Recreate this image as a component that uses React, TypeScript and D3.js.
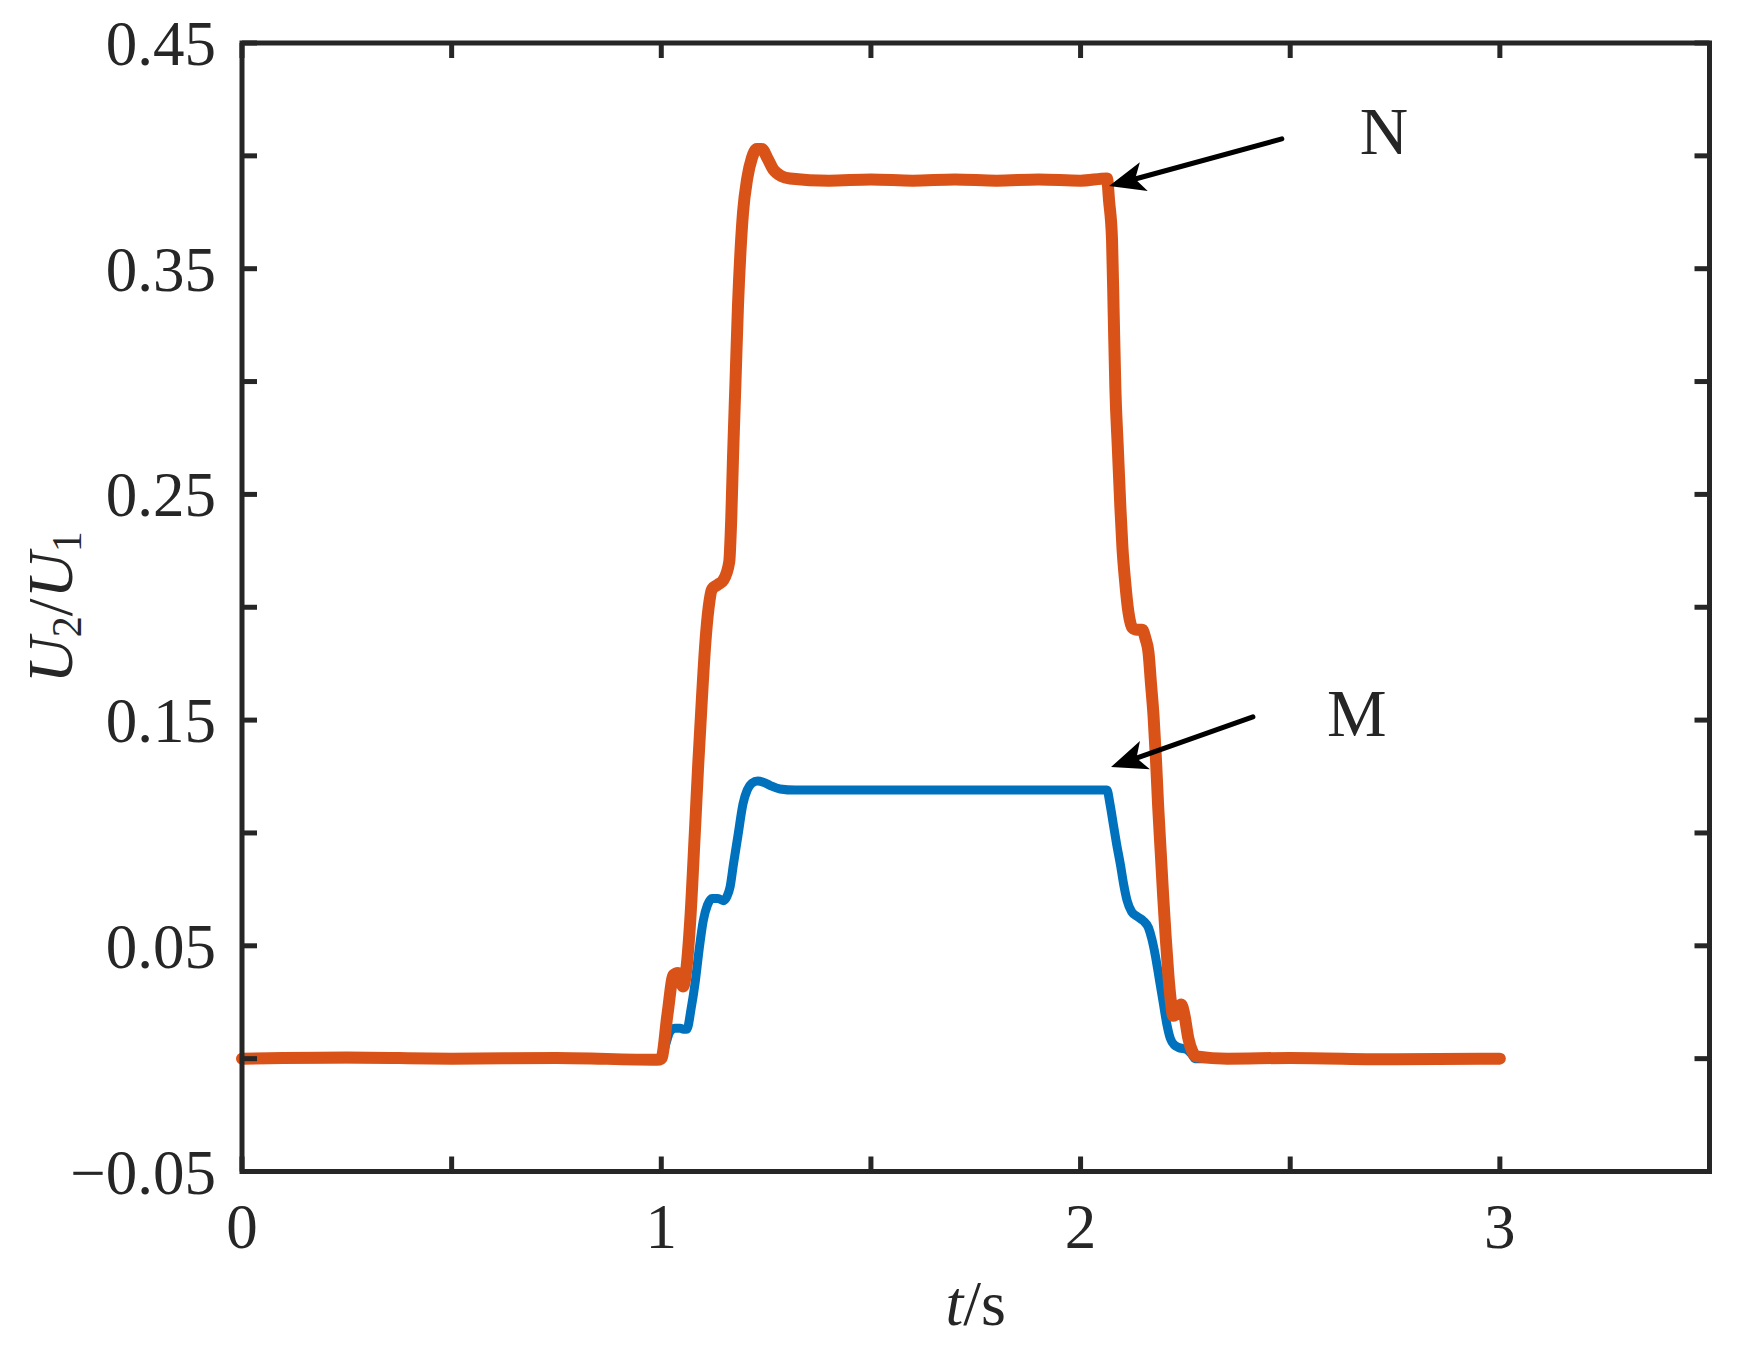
import React from "react";
import * as d3 from "d3";

// ---- data ----
const tN = [0, 0.25, 0.5, 0.75, 0.99, 1.0, 1.015, 1.029, 1.04, 1.052, 1.06, 1.069, 1.08, 1.088, 1.097, 1.105, 1.113, 1.121, 1.135, 1.148, 1.162, 1.167, 1.171, 1.177, 1.183, 1.189, 1.195, 1.205, 1.216, 1.228, 1.24, 1.253, 1.267, 1.287, 1.307, 1.4, 1.5, 1.6, 1.7, 1.8, 1.9, 2.0, 2.063, 2.068, 2.075, 2.079, 2.083, 2.089, 2.095, 2.1, 2.106, 2.114, 2.123, 2.135, 2.147, 2.155, 2.162, 2.168, 2.174, 2.18, 2.185, 2.191, 2.197, 2.203, 2.209, 2.215, 2.221, 2.23, 2.24, 2.247, 2.257, 2.267, 2.277, 2.35, 2.5, 2.75, 3.0];
const vN = [0, 0.0005, 0, 0.0003, -0.0005, 0, 0.02, 0.037, 0.038, 0.032, 0.04, 0.061, 0.1, 0.13, 0.16, 0.184, 0.2, 0.208, 0.21, 0.212, 0.22, 0.24, 0.266, 0.3, 0.334, 0.358, 0.375, 0.39, 0.399, 0.403, 0.403, 0.399, 0.394, 0.391, 0.39, 0.389, 0.3895, 0.389, 0.3895, 0.389, 0.3895, 0.389, 0.39, 0.38, 0.363, 0.33, 0.297, 0.27, 0.244, 0.226, 0.212, 0.198, 0.191, 0.19, 0.19, 0.186, 0.18, 0.166, 0.152, 0.132, 0.112, 0.092, 0.072, 0.054, 0.038, 0.026, 0.019, 0.02, 0.024, 0.02, 0.009, 0.003, 0.001, 0, 0.0003, -0.0003, 0];

const tM = [0, 1.0, 1.01, 1.021, 1.033, 1.045, 1.053, 1.061, 1.071, 1.081, 1.09, 1.1, 1.11, 1.121, 1.135, 1.148, 1.157, 1.164, 1.172, 1.183, 1.195, 1.205, 1.216, 1.23, 1.243, 1.26, 1.283, 1.32, 1.5, 1.8, 2.063, 2.07, 2.078, 2.086, 2.095, 2.103, 2.111, 2.122, 2.135, 2.15, 2.162, 2.17, 2.178, 2.188, 2.197, 2.205, 2.214, 2.224, 2.233, 2.254, 2.265, 2.273, 3.0];
const vM = [0, 0, 0.006, 0.012, 0.0135, 0.0135, 0.013, 0.013, 0.022, 0.034, 0.048, 0.061, 0.068, 0.071, 0.071, 0.07, 0.072, 0.076, 0.086, 0.099, 0.113, 0.119, 0.122, 0.123, 0.1225, 0.121, 0.1195, 0.119, 0.119, 0.119, 0.119, 0.113, 0.104, 0.095, 0.086, 0.077, 0.07, 0.065, 0.063, 0.061, 0.058, 0.053, 0.046, 0.035, 0.025, 0.016, 0.009, 0.006, 0.005, 0.004, 0.002, 0, 0];

const xTicks = [0, 0.5, 1, 1.5, 2, 2.5, 3, 3.5];
const xTickLabels = ["0", "", "1", "", "2", "", "3", ""];
const yTicks = [-0.05, 0, 0.05, 0.1, 0.15, 0.2, 0.25, 0.3, 0.35, 0.4, 0.45];
const yTickLabels = ["\u22120.05", "", "0.05", "", "0.15", "", "0.25", "", "0.35", "", "0.45"];

// annotations: [tail t, tail v, tip t, tip v, label, label t, label v]
const annotN = { from: [2.48, 0.4075], to: [2.068, 0.3866], label: "N", at: [2.666, 0.4008] };
const annotM = { from: [2.411, 0.1514], to: [2.0726, 0.1292], label: "M", at: [2.588, 0.143] };

const W = 1743;
const H = 1348;
const FONT = "'Liberation Serif', 'Times New Roman', serif";
const INK = "#262626";

export default function App() {
  const x = d3.scaleLinear().domain([0, 3.5]).range([242, 1709.5]);
  const y = d3.scaleLinear().domain([-0.05, 0.45]).range([1171.5, 43]);

  const line = d3
    .line<number>()
    .x((_, i) => 0)
    .curve(d3.curveMonotoneX);

  const mkPath = (ts: number[], vs: number[]) =>
    d3
      .line<[number, number]>()
      .x((d) => x(d[0]))
      .y((d) => y(d[1]))
      .curve(d3.curveMonotoneX)(ts.map((t, i) => [t, vs[i]] as [number, number])) || "";
  void line;

  const [x0, x1] = x.range();
  const [y0, y1] = y.range();
  const tickLen = 15;

  const arrow = (a: typeof annotN) => {
    const sx = x(a.from[0]), sy = y(a.from[1]);
    const tx = x(a.to[0]), ty = y(a.to[1]);
    const dx = sx - tx, dy = sy - ty;
    const len = Math.hypot(dx, dy);
    const ux = dx / len, uy = dy / len;
    const nx = -uy, ny = ux;
    const L = 36, hw = 15, notch = 27;
    const c1 = [tx + L * ux + hw * nx, ty + L * uy + hw * ny];
    const c2 = [tx + L * ux - hw * nx, ty + L * uy - hw * ny];
    const nt = [tx + notch * ux, ty + notch * uy];
    return (
      <g>
        <line x1={sx} y1={sy} x2={nt[0]} y2={nt[1]} stroke="#000" strokeWidth={5} strokeLinecap="round" />
        <polygon points={`${tx},${ty} ${c1[0]},${c1[1]} ${nt[0]},${nt[1]} ${c2[0]},${c2[1]}`} fill="#000" />
        <text x={x(a.at[0])} y={y(a.at[1])} fontFamily={FONT} fontSize={67} fill={INK}>
          {a.label}
        </text>
      </g>
    );
  };

  return (
    <svg width={W} height={H} style={{ position: "absolute", left: 0, top: 0, background: "#fff" }}>
      <rect x={0} y={0} width={W} height={H} fill="#fff" />
      {/* data */}
      <path d={mkPath(tM, vM)} fill="none" stroke="#0072BD" strokeWidth={9} strokeLinejoin="round" strokeLinecap="round" />
      <path d={mkPath(tN, vN)} fill="none" stroke="#D95319" strokeWidth={12} strokeLinejoin="round" strokeLinecap="round" />

      {/* ticks */}
      {xTicks.map((t, i) => (
        <g key={"xt" + i}>
          <line x1={x(t)} x2={x(t)} y1={y0} y2={y0 - tickLen} stroke={INK} strokeWidth={5} />
          <line x1={x(t)} x2={x(t)} y1={y1} y2={y1 + tickLen} stroke={INK} strokeWidth={5} />
          {xTickLabels[i] && (
            <text x={x(t)} y={1248} textAnchor="middle" fontFamily={FONT} fontSize={63} fill={INK}>
              {xTickLabels[i]}
            </text>
          )}
        </g>
      ))}
      {yTicks.map((v, i) => (
        <g key={"yt" + i}>
          <line x1={x0} x2={x0 + tickLen} y1={y(v)} y2={y(v)} stroke={INK} strokeWidth={5} />
          <line x1={x1} x2={x1 - tickLen} y1={y(v)} y2={y(v)} stroke={INK} strokeWidth={5} />
          {yTickLabels[i] && (
            <text x={216} y={y(v) + 22} textAnchor="end" fontFamily={FONT} fontSize={63} fill={INK}>
              {yTickLabels[i]}
            </text>
          )}
        </g>
      ))}

      {/* frame */}
      <rect x={x0} y={y1} width={x1 - x0} height={y0 - y1} fill="none" stroke={INK} strokeWidth={5} />

      {/* axis labels */}
      <text x={(x0 + x1) / 2} y={1325} textAnchor="middle" fontFamily={FONT} fontSize={64} fill={INK}>
        <tspan fontStyle="italic">t</tspan>
        <tspan>/s</tspan>
      </text>
      <text
        transform={`translate(72, ${(y0 + y1) / 2}) rotate(-90)`}
        textAnchor="middle"
        fontFamily={FONT}
        fontSize={64}
        fill={INK}
      >
        <tspan fontStyle="italic">U</tspan>
        <tspan fontSize={42} dy={9}>2</tspan>
        <tspan dy={-9}>/</tspan>
        <tspan fontStyle="italic">U</tspan>
        <tspan fontSize={42} dy={9}>1</tspan>
      </text>

      {arrow(annotN)}
      {arrow(annotM)}
    </svg>
  );
}
